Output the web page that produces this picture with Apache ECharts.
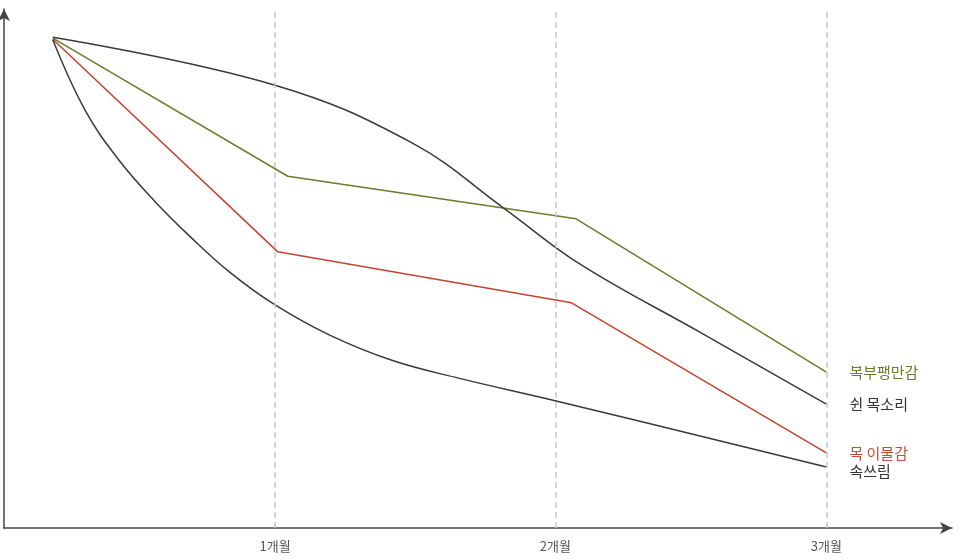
<!DOCTYPE html>
<html>
<head>
<meta charset="utf-8">
<script src="https://cdn.jsdelivr.net/npm/echarts@6/dist/echarts.min.js"></script>
<style>
  html, body { margin: 0; padding: 0; background: #fff; }
  #chart { width: 960px; height: 559px; }
</style>
</head>
<body>
<div id="chart"></div>
<script>
// x values are days since start; y values are relative symptom level (0-100 scale)
const tickDays = [30, 61, 91];
const tickLabels = ['1개월', '2개월', '3개월'];

const seriesNames = ['복부팽만감', '쉰 목소리', '목 이물감', '속쓰림'];

const bloatingX = [5.4, 31.4, 63.3, 91.0];
const bloatingY = [93.3, 67.0, 58.9, 29.7];

const hoarseX = [5.4, 29.9, 45.2, 55.4, 63.7, 77.0, 91.0];
const hoarseY = [93.5, 84.4, 73.3, 60.8, 50.3, 37.3, 23.6];

const throatX = [5.4, 30.3, 62.8, 91.0];
const throatY = [93.1, 52.6, 42.9, 14.3];

const heartburnX = [5.4, 9.0, 12.8, 16.7, 20.6, 25.0, 30.0, 36.1, 43.0, 50.4, 61.1, 91.0];
const heartburnY = [93.0, 79.5, 69.9, 62.2, 55.5, 48.7, 42.5, 36.7, 31.9, 28.5, 24.2, 11.6];

const pair = (xs, ys) => xs.map((x, i) => [x, ys[i]]);

const FONT = '"Noto Sans CJK KR", "Noto Sans", sans-serif';
const GREEN = '#6c7b2c';
const RED = '#c4432f';
const DARK = '#3a3a3a';

function lineSeries(name, data, color, labelColor, smooth, offsetY) {
  return {
    name: name,
    type: 'line',
    data: data,
    smooth: smooth,
    showSymbol: false,
    symbol: 'none',
    lineStyle: { color: color, width: 1.5 },
    itemStyle: { color: color },
    endLabel: {
      show: true,
      formatter: '{a}',
      color: labelColor,
      fontSize: 15,
      fontFamily: FONT,
      distance: 23,
      offset: [0, offsetY]
    },
    emphasis: { disabled: true },
    z: 3
  };
}

const chart = echarts.init(document.getElementById('chart'), null, { renderer: 'canvas' });
chart.setOption({
  animation: false,
  backgroundColor: '#fff',
  grid: { left: 4, right: 8, top: 9, bottom: 31, containLabel: false },
  xAxis: {
    type: 'value',
    min: 0,
    max: 104.9,
    splitLine: { show: false },
    axisLine: {
      show: true,
      symbol: ['none', 'arrow'],
      symbolSize: [9, 12],
      lineStyle: { color: '#454545', width: 1.5 }
    },
    axisTick: { show: false },
    axisLabel: {
      show: true,
      customValues: tickDays,
      formatter: function (v) {
        const i = tickDays.indexOf(v);
        return i >= 0 ? tickLabels[i] : '';
      },
      color: '#555',
      fontSize: 13,
      fontFamily: FONT,
      margin: 12
    }
  },
  yAxis: {
    type: 'value',
    min: 0,
    max: 98.86,
    splitLine: { show: false },
    axisLine: {
      show: true,
      symbol: ['none', 'arrow'],
      symbolSize: [9, 12],
      lineStyle: { color: '#454545', width: 1.5 }
    },
    axisTick: { show: false },
    axisLabel: { show: false }
  },
  series: [
    Object.assign(lineSeries(seriesNames[0], pair(bloatingX, bloatingY), GREEN, GREEN, false, 0), {
      markLine: {
        silent: true,
        symbol: ['none', 'none'],
        label: { show: false },
        lineStyle: { color: '#c8c8c8', type: [6, 4], width: 1.5 },
        data: tickDays.map(d => ({ xAxis: d }))
      }
    }),
    lineSeries(seriesNames[1], pair(hoarseX, hoarseY), DARK, '#333', 0.4, 0),
    lineSeries(seriesNames[2], pair(throatX, throatY), RED, '#c94a36', false, 0),
    lineSeries(seriesNames[3], pair(heartburnX, heartburnY), DARK, '#333', 0.4, 4)
  ]
});
</script>
</body>
</html>
